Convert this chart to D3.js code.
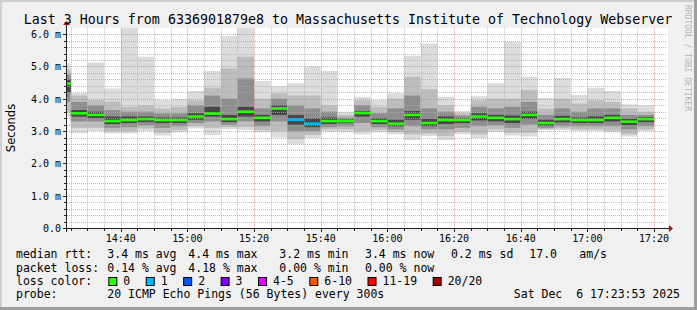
<!DOCTYPE html>
<html>
<head>
<meta charset="utf-8">
<script src="https://cdn.jsdelivr.net/npm/d3@7"></script>
<style>
  body { margin: 0; background: #f0f0f0; }
  text { white-space: pre; }
</style>
</head>
<body>
<script>
// smokeping samples, one per 5 minute step, starting 14:20
const rttMax    = [5.1, 4.18, 5.12, 4.32, 6.25, 5.3, 3.96, 3.99, 4.24, 4.86, 5.94, 6.25, 4.55, 4.39, 4.48, 5.0, 4.86, 3.6, 4.06, 3.96, 4.17, 5.33, 5.71, 4.06, 3.62, 4.08, 4.48, 5.76, 4.68, 4.03, 4.65, 4.12, 4.34, 4.24, 3.83, 3.79];
const rttHi2    = [4.9, 4.1, 3.96, 3.91, 3.75, 3.8, 3.7, 3.75, 3.95, 4.34, 4.94, 5.3, 4.0, 4.17, 4.1, 4.1, 3.8, 3.5, 3.95, 3.75, 4.0, 4.68, 4.3, 3.8, 3.55, 3.95, 4.0, 4.0, 4.27, 3.7, 4.0, 3.85, 3.95, 3.9, 3.7, 3.6];
const rttHi3    = [4.75, 3.9, 3.8, 3.65, 3.6, 3.6, 3.55, 3.55, 3.8, 4.1, 4.0, 4.63, 3.7, 4.0, 3.8, 3.7, 3.6, 3.42, 3.8, 3.55, 3.7, 4.1, 3.7, 3.6, 3.48, 3.75, 3.7, 3.75, 3.9, 3.5, 3.7, 3.6, 3.7, 3.7, 3.5, 3.5];
const rttHi4    = [4.6, 3.65, 3.6, 3.45, 3.45, 3.45, 3.42, 3.42, 3.55, 3.75, 3.5, 3.75, 3.5, 3.8, 3.5, 3.4, 3.42, 3.36, 3.62, 3.4, 3.35, 3.62, 3.38, 3.45, 3.4, 3.55, 3.5, 3.48, 3.6, 3.35, 3.47, 3.42, 3.45, 3.5, 3.38, 3.43];
const rttMedian = [4.47, 3.55, 3.5, 3.31, 3.34, 3.37, 3.34, 3.34, 3.45, 3.54, 3.37, 3.6, 3.41, 3.7, 3.35, 3.23, 3.31, 3.31, 3.56, 3.31, 3.23, 3.5, 3.25, 3.34, 3.34, 3.45, 3.41, 3.37, 3.5, 3.25, 3.37, 3.34, 3.34, 3.41, 3.29, 3.37];
const rttLo4    = [4.2, 3.45, 3.4, 3.22, 3.25, 3.28, 3.25, 3.25, 3.35, 3.45, 3.28, 3.45, 3.3, 3.5, 3.2, 3.12, 3.22, 3.25, 3.45, 3.22, 3.15, 3.35, 3.15, 3.22, 3.25, 3.33, 3.3, 3.25, 3.38, 3.17, 3.27, 3.25, 3.25, 3.3, 3.18, 3.28];
const rttLo3    = [3.9, 3.3, 3.3, 3.1, 3.12, 3.18, 3.1, 3.15, 3.25, 3.3, 3.2, 3.3, 3.15, 3.3, 3.0, 3.0, 3.12, 3.15, 3.25, 3.12, 3.05, 3.15, 3.05, 3.05, 3.1, 3.15, 3.18, 3.1, 3.2, 3.1, 3.15, 3.15, 3.15, 3.15, 3.05, 3.15];
const rttLo2    = [3.6, 3.1, 3.1, 3.0, 3.0, 3.08, 2.95, 3.03, 3.15, 3.1, 3.12, 3.12, 3.03, 3.0, 2.75, 2.88, 3.05, 3.05, 3.0, 3.03, 2.97, 2.9, 2.92, 2.85, 2.98, 2.9, 3.05, 2.95, 2.95, 3.06, 3.08, 3.05, 3.05, 3.02, 2.9, 3.05];
const rttMin    = [3.45, 2.93, 3.0, 2.93, 2.93, 3.0, 2.86, 2.96, 3.08, 2.88, 3.06, 3.03, 2.96, 2.8, 2.59, 2.78, 2.98, 2.96, 2.9, 2.96, 2.9, 2.72, 2.85, 2.72, 2.9, 2.78, 2.98, 2.86, 2.83, 3.03, 3.03, 3.0, 3.0, 2.96, 2.83, 3.0];
const lossPings = [0, 0, 0, 0, 0, 0, 0, 0, 0, 0, 0, 0, 0, 0, 1, 1, 0, 0, 0, 0, 0, 0, 0, 0, 0, 0, 0, 0, 0, 0, 0, 0, 0, 0, 0, 0];

const lossLabels = ["0", "1", "2", "3", "4-5", "6-10", "11-19", "20/20"];
const lossColors = ["#26ff00", "#00b8ff", "#0059ff", "#7e00ff", "#e600ff", "#ff5500", "#ff0000", "#a10000"];

const yTicks = [0, 1, 2, 3, 4, 5, 6];

const statRows = [
    ["median rtt:", "3.4 ms avg", "4.4 ms max", "3.2 ms min", "3.4 ms now", "0.2 ms sd", "17.0", "am/s"],
    ["packet loss:", "0.14 % avg", "4.18 % max", "0.00 % min", "0.00 % now"]
];
const statCols = [16, 107.3, 188.3, 279.3, 365, 451, 529.3, 579.3];

const W = 697, H = 310;
const X0 = 67, X1 = 667, Y0 = 228, YT = 27.7;
const MONO = "'DejaVu Sans Mono', monospace";

const tStart = new Date(2025, 11, 6, 14, 23, 53);
const tEnd = new Date(2025, 11, 6, 17, 23, 53);
const firstBar = new Date(2025, 11, 6, 14, 20, 0);

const x = d3.scaleTime().domain([tStart, tEnd]).range([X0, X1]);
const y = d3.scaleLinear().domain([0, 6.2]).range([Y0, YT]);
const crisp = v => Math.round(v) + 0.5;

const svg = d3.select('body').append('svg')
    .attr('width', W).attr('height', H);

// frame
svg.append('rect').attr('width', W).attr('height', H).attr('fill', '#f0f0f0');
svg.append('path').attr('d', `M0,0H${W}V2H2V${H}H0Z`).attr('fill', '#cfcfcf');
svg.append('path').attr('d', `M${W},0V${H}H0V${H - 3}H${W - 3}V0Z`).attr('fill', '#9e9e9e');

// canvas
svg.append('rect')
    .attr('x', X0).attr('y', YT)
    .attr('width', X1 - X0 + 1).attr('height', Y0 - YT)
    .attr('fill', '#fff');

svg.append('clipPath').attr('id', 'plot')
    .append('rect')
    .attr('x', X0).attr('y', YT)
    .attr('width', X1 - X0).attr('height', Y0 - YT);

const bars = rttMedian.map((m, i) => ({
    t0: d3.timeMinute.offset(firstBar, 5 * i),
    t1: d3.timeMinute.offset(firstBar, 5 * i + 5),
    bands: [
        [rttMin[i], rttMax[i]],
        [rttLo2[i], rttHi2[i]],
        [rttLo3[i], rttHi3[i]],
        [rttLo4[i], rttHi4[i]]
    ],
    median: m,
    loss: lossPings[i]
}));

const shades = ['#dcdcdc', '#bdbdbd', '#8e8e8e', '#474747'];

const plot = svg.append('g').attr('clip-path', 'url(#plot)');

bars.forEach(b => {
    b.bands.forEach((band, k) => {
        plot.append('rect')
            .attr('x', x(b.t0))
            .attr('width', x(b.t1) - x(b.t0))
            .attr('y', y(band[1]))
            .attr('height', y(band[0]) - y(band[1]))
            .attr('fill', shades[k]);
    });
});

// grid
const grid = svg.append('g').attr('fill', 'none').attr('stroke-dasharray', '1,1');
const minorT = d3.timeMinute.every(5).range(tStart, tEnd).filter(t => t.getMinutes() % 20 !== 0);
const majorT = d3.timeMinute.every(20).range(tStart, tEnd);
const minorY = d3.range(1, 31).map(k => k * 0.2).filter(v => Math.abs(v - Math.round(v)) > 0.01);

grid.selectAll('.vmin').data(minorT).join('line')
    .attr('x1', d => crisp(x(d))).attr('x2', d => crisp(x(d)))
    .attr('y1', YT).attr('y2', Y0)
    .attr('stroke', 'rgba(170,170,170,0.8)');
grid.selectAll('.hmin').data(minorY).join('line')
    .attr('y1', d => crisp(y(d))).attr('y2', d => crisp(y(d)))
    .attr('x1', X0).attr('x2', X1)
    .attr('stroke', 'rgba(170,170,170,0.8)');
grid.selectAll('.vmaj').data(majorT).join('line')
    .attr('x1', d => crisp(x(d))).attr('x2', d => crisp(x(d)))
    .attr('y1', YT).attr('y2', Y0)
    .attr('stroke', 'rgba(230,90,90,0.6)');
grid.selectAll('.hmaj').data(yTicks.slice(1)).join('line')
    .attr('y1', d => crisp(y(d))).attr('y2', d => crisp(y(d)))
    .attr('x1', X0).attr('x2', X1)
    .attr('stroke', 'rgba(230,90,90,0.6)');

// median lines coloured by loss
bars.forEach(b => {
    plot.append('rect')
        .attr('x', x(b.t0))
        .attr('width', x(b.t1) - x(b.t0))
        .attr('y', y(b.median) - 1.3)
        .attr('height', 2.6)
        .attr('fill', lossColors[b.loss]);
});

// axes
const axis = svg.append('g').attr('stroke', '#222').attr('stroke-width', 1);
axis.append('line').attr('x1', 63).attr('x2', 669).attr('y1', crisp(Y0)).attr('y2', crisp(Y0));
axis.append('line').attr('x1', crisp(X0 - 1)).attr('x2', crisp(X0 - 1)).attr('y1', 232).attr('y2', 25);
minorY.forEach(v => {
    axis.append('line').attr('x1', X0 - 3).attr('x2', X0 - 1)
        .attr('y1', crisp(y(v))).attr('y2', crisp(y(v)));
});
yTicks.forEach(v => {
    axis.append('line').attr('x1', X0 - 4).attr('x2', X0 - 1)
        .attr('y1', crisp(y(v))).attr('y2', crisp(y(v)));
});
minorT.forEach(t => {
    axis.append('line').attr('x1', crisp(x(t))).attr('x2', crisp(x(t)))
        .attr('y1', Y0 + 1).attr('y2', Y0 + 3);
});
majorT.forEach(t => {
    axis.append('line').attr('x1', crisp(x(t))).attr('x2', crisp(x(t)))
        .attr('y1', Y0 + 1).attr('y2', Y0 + 4);
});
svg.append('path').attr('d', 'M669,225L673,228.5L669,232Z').attr('fill', '#a01818');
svg.append('path').attr('d', 'M63,25L66.5,21L70,25Z').attr('fill', '#a01818');

// tick labels
svg.selectAll('.ylab').data(yTicks).join('text')
    .attr('x', 61).attr('y', d => y(d) + 4)
    .attr('text-anchor', 'end')
    .attr('font-family', MONO).attr('font-size', 10)
    .text(d => d === 0 ? '0.0' : d3.format('.1f')(d) + ' m');

svg.selectAll('.xlab').data(majorT).join('text')
    .attr('x', d => x(d)).attr('y', 241.5)
    .attr('text-anchor', 'middle')
    .attr('font-family', MONO).attr('font-size', 10)
    .text(d3.timeFormat('%H:%M'));

// titles
svg.append('text')
    .attr('x', 348).attr('y', 23.5)
    .attr('text-anchor', 'middle')
    .attr('font-family', MONO).attr('font-size', 13.3)
    .text('Last 3 Hours from 6336901879e8 to Massachusetts Institute of Technology Webserver');

svg.append('text')
    .attr('transform', 'translate(14.5,128) rotate(-90)')
    .attr('text-anchor', 'middle')
    .attr('font-family', "'DejaVu Sans', sans-serif").attr('font-size', 11.5)
    .text('Seconds');

svg.append('text')
    .attr('transform', 'translate(685,5) rotate(90)')
    .attr('font-family', MONO).attr('font-size', 8)
    .attr('fill', '#b4b4b4')
    .text('RRDTOOL / TOBI OETIKER');

// legend
const LEG = 11.5;
const rowY = [258.3, 271.6, 285, 298.3];
statRows.forEach((row, r) => {
    row.forEach((s, c) => {
        svg.append('text')
            .attr('x', statCols[c]).attr('y', rowY[r])
            .attr('font-family', MONO).attr('font-size', LEG)
            .text(s);
    });
});

svg.append('text')
    .attr('x', 16).attr('y', rowY[2])
    .attr('font-family', MONO).attr('font-size', LEG)
    .text('loss color:');
let lx = 108.3;
const cw = 6.93;
lossLabels.forEach((lab, i) => {
    svg.append('rect')
        .attr('x', lx + 0.5).attr('y', rowY[2] - 7.5)
        .attr('width', 8).attr('height', 8)
        .attr('fill', lossColors[i]).attr('stroke', '#000');
    svg.append('text')
        .attr('x', lx + 15).attr('y', rowY[2])
        .attr('font-family', MONO).attr('font-size', LEG)
        .text(lab);
    lx = lx + 15 + lab.length * cw + 15.5;
});

svg.append('text')
    .attr('x', 16).attr('y', rowY[3])
    .attr('font-family', MONO).attr('font-size', LEG)
    .text('probe:');
svg.append('text')
    .attr('x', 107.3).attr('y', rowY[3])
    .attr('font-family', MONO).attr('font-size', LEG)
    .text('20 ICMP Echo Pings (56 Bytes) every 300s');
svg.append('text')
    .attr('x', 680).attr('y', rowY[3])
    .attr('text-anchor', 'end')
    .attr('font-family', MONO).attr('font-size', LEG)
    .text('Sat Dec  6 17:23:53 2025');
</script>
</body>
</html>
